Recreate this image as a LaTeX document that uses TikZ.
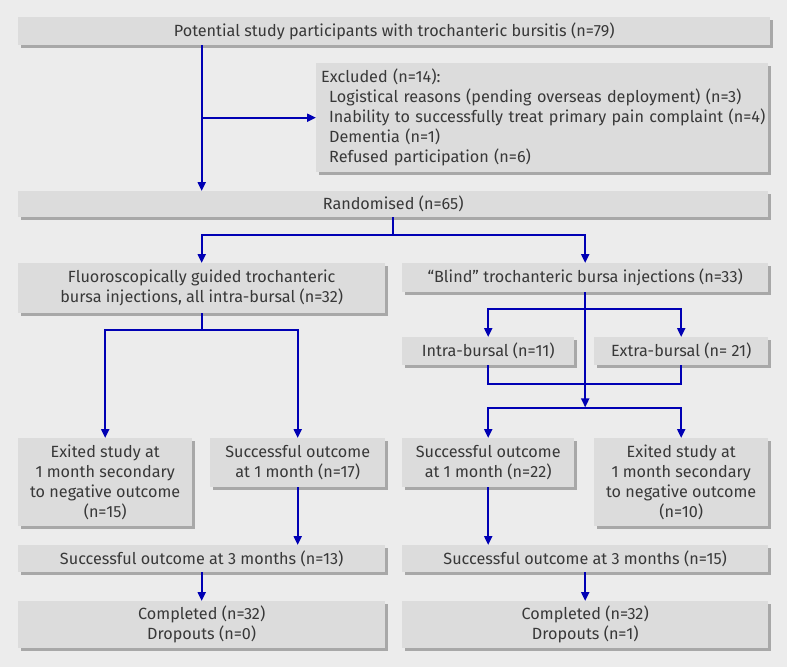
\documentclass[tikz,border=0pt]{standalone}
\usepackage{fontspec}
\setmainfont{Fira Sans}
\usetikzlibrary{arrows.meta,positioning,shadows,calc}
\definecolor{bgcol}{HTML}{ECECEC}
\definecolor{boxcol}{HTML}{DCDCDC}
\definecolor{shadecol}{HTML}{A8A8A8}
\definecolor{txtcol}{HTML}{383838}
\definecolor{flowblue}{HTML}{0000B4}
\tikzset{
  fc/box/.style={fill=boxcol, drop shadow={shadow xshift=3pt, shadow yshift=-3pt, fill=shadecol, opacity=1},
    inner sep=2pt, align=center, text=txtcol, anchor=north west, font=\fontsize{16.2}{20}\selectfont},
  fc/line/.style={draw=flowblue, line width=2pt},
  fc/arrow/.style={fc/line, -{Triangle[length=9pt,width=8pt]}}
}

\begin{document}
\begin{tikzpicture}[x=1pt, y=-1pt]
  \fill[bgcol] (0,0) rectangle (787,667);
  \useasboundingbox (0,0) rectangle (787,667);

  % boxes
  \node[fc/box, minimum width=752pt, minimum height=28pt] (start) at (18,17)
    {Potential study participants with trochanteric bursitis (n=79)};
  \node[fc/box, minimum width=452pt, minimum height=109pt, text width=452pt, inner xsep=0pt,
    align=left] (excl) at (316,63)
    {\hspace*{5pt}Excluded (n=14):\\
     \mbox{\hspace*{13pt}Logistical reasons (pending overseas deployment) (n=3)}\\
     \mbox{\hspace*{13pt}Inability to successfully treat primary pain complaint (n=4)}\\
     \hspace*{13pt}Dementia (n=1)\\
     \hspace*{13pt}Refused participation (n=6)};
  \node[fc/box, minimum width=750pt, minimum height=26pt] (rand) at (18,191) {Randomised (n=65)};

  \node[fc/box, minimum width=367pt, minimum height=50pt] (fluoro) at (18,263)
    {Fluoroscopically guided trochanteric\\bursa injections, all intra-bursal (n=32)};
  \node[fc/box, minimum width=366pt, minimum height=29pt] (blind) at (402,263)
    {“Blind” trochanteric bursa injections (n=33)};

  \node[fc/box, minimum width=172pt, minimum height=28pt] (intra) at (402,337) {Intra-bursal (n=11)};
  \node[fc/box, minimum width=174pt, minimum height=28pt] (extra) at (594,337) {Extra-bursal (n= 21)};

  \node[fc/box, minimum width=174pt, minimum height=88pt] (exitL) at (18,438)
    {Exited study at\\1 month secondary\\to negative outcome\\(n=15)};
  \node[fc/box, minimum width=175pt, minimum height=49pt] (succL) at (210,438)
    {Successful outcome\\at 1 month (n=17)};
  \node[fc/box, minimum width=172pt, minimum height=49pt] (succR) at (402,438)
    {Successful outcome\\at 1 month (n=22)};
  \node[fc/box, minimum width=174pt, minimum height=88pt] (exitR) at (594,438)
    {Exited study at\\1 month secondary\\to negative outcome\\(n=10)};

  \node[fc/box, minimum width=367pt, minimum height=27pt] (threeL) at (18,545)
    {Successful outcome at 3 months (n=13)};
  \node[fc/box, minimum width=366pt, minimum height=27pt] (threeR) at (402,545)
    {Successful outcome at 3 months (n=15)};

  \node[fc/box, minimum width=367pt, minimum height=47pt] (compL) at (18,601)
    {Completed (n=32)\\Dropouts (n=0)};
  \node[fc/box, minimum width=366pt, minimum height=47pt] (compR) at (402,601)
    {Completed (n=32)\\Dropouts (n=1)};

  % connectors
  \draw[fc/arrow] (start.south -| fluoro.north) -- (rand.north -| fluoro.north);
  \draw[fc/arrow] (excl.west -| fluoro.north) -- (excl.west);

  \coordinate (rsplit) at ($(rand.south)+(0,18)$);
  \draw[fc/line] (rand.south) -- (rsplit);
  \draw[fc/arrow] (rsplit) -| (fluoro.north);
  \draw[fc/arrow] (rsplit) -| (blind.north);

  \coordinate (fsplit) at ($(fluoro.south)+(0,17)$);
  \draw[fc/line] (fluoro.south) -- (fsplit);
  \draw[fc/arrow] (fsplit) -| (exitL.north);
  \draw[fc/arrow] (fsplit) -| (succL.north);

  \coordinate (bsplit) at ($(blind.south)+(0,17)$);
  \coordinate (merge) at ($(blind.south)+(0,116)$);
  \draw[fc/arrow] (blind.south) -- ($(merge)+(0,-1)$);
  \draw[fc/arrow] (bsplit) -| (intra.north);
  \draw[fc/arrow] (bsplit) -| (extra.north);
  \draw[fc/line] (intra.south) -- ++(0,19) -| (extra.south);
  \draw[fc/arrow] (merge) -| (succR.north);
  \draw[fc/arrow] (merge) -| (exitR.north);

  \draw[fc/arrow] (succL.south) -- (succL.south |- threeL.north);
  \draw[fc/arrow] (succR.south) -- (succR.south |- threeR.north);
  \draw[fc/arrow] (threeL.south) -- (compL.north);
  \draw[fc/arrow] (threeR.south) -- (compR.north);
\end{tikzpicture}
\end{document}
